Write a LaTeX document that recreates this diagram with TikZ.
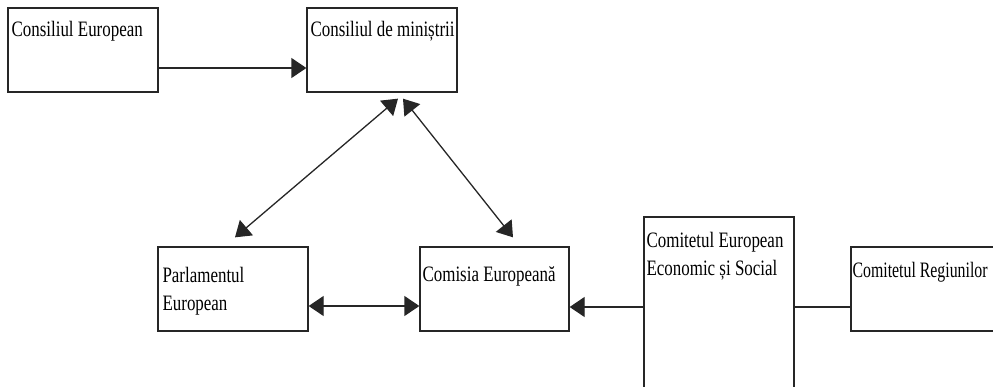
\documentclass[tikz,border=0pt]{standalone}
\usepackage{fontspec}
\setmainfont{Liberation Serif}
\usetikzlibrary{arrows.meta}
\newcommand\lbl[2][0.77]{\scalebox{#1}[1]{#2}}
\tikzset{
  box/.style={draw=black!85, line width=1.3pt, rectangle, inner sep=0pt},
  txt/.style={anchor=base west, inner sep=0pt, font=\fontsize{22}{28.5}\selectfont},
  con/.style={draw=black!85, line width=1.3pt},
  arr/.style={con, -{Triangle[length=15pt,width=20pt]}},
  darr/.style={con, {Triangle[length=15pt,width=20pt]}-{Triangle[length=15pt,width=20pt]}},
}
\begin{document}
\begin{tikzpicture}[x=1pt,y=1pt]
\useasboundingbox (0,0) rectangle (993,-386);
\node[box, minimum width=150pt, minimum height=84pt] (ce) at (83,-50) {};
\node[box, minimum width=150pt, minimum height=84pt] (cm) at (382,-50) {};
\node[box, minimum width=150pt, minimum height=84pt] (pe) at (233,-289) {};
\node[box, minimum width=149pt, minimum height=84pt] (com) at (494.5,-289) {};
\node[box, minimum width=150pt, minimum height=183pt] (cees) at (719,-308.5) {};
\node[box, minimum width=150pt, minimum height=84pt] (cr) at (926,-289) {};

\node[txt] (tce) at ([shift={(4,-29)}]ce.north west) {\lbl{Consiliul European}};
\node[txt] (tcm) at ([shift={(4,-29)}]cm.north west) {\lbl{Consiliul de miniștrii}};
\node[txt] (tpe) at ([shift={(5,-36)}]pe.north west) {\lbl{\begin{tabular}[t]{@{}l@{}}Parlamentul\\European\end{tabular}}};
\node[txt] (tcom) at ([shift={(3,-35)}]com.north west) {\lbl{Comisia Europeană}};
\node[txt] (tcees) at ([shift={(3,-31)}]cees.north west) {\lbl{\begin{tabular}[t]{@{}l@{}}Comitetul European\\Economic și Social\end{tabular}}};
\node[txt] (tcr) at ([shift={(2,-31)}]cr.north west) {\lbl[0.72]{Comitetul Regiunilor}};

\draw[arr] ([yshift=-18pt]ce.east) -- ([yshift=-18pt]cm.west);
\draw[darr] ([shift={(2,9)}]pe.north) -- ([shift={(16,-6)}]cm.south);
\draw[darr] ([shift={(18.5,9)}]com.north) -- ([shift={(21,-6)}]cm.south);
\draw[darr] ([yshift=-17pt]pe.east) -- ([yshift=-17pt]com.west);
\draw[arr] ([yshift=1.5pt]cees.west) -- ([yshift=-18pt]com.east);
\draw[con] ([yshift=1.5pt]cees.east) -- ([yshift=-18pt]cr.west);
\end{tikzpicture}
\end{document}
